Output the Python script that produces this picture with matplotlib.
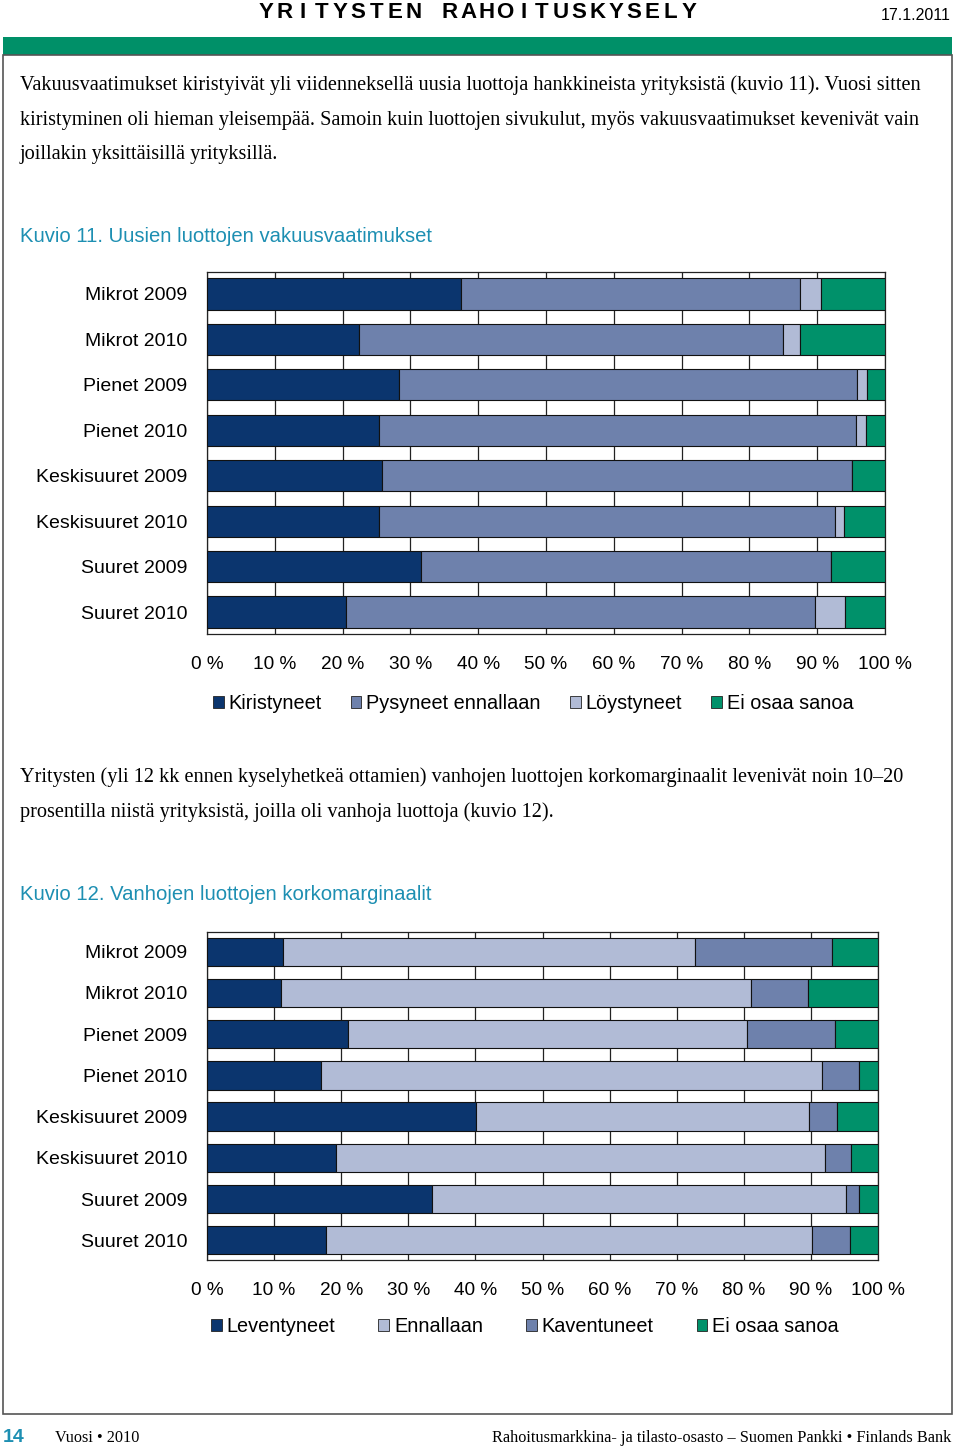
import numpy as np
import matplotlib.pyplot as plt
from matplotlib.patches import Patch, Rectangle

# --- data ---
groups = ["Mikrot 2009", "Mikrot 2010", "Pienet 2009", "Pienet 2010",
          "Keskisuuret 2009", "Keskisuuret 2010", "Suuret 2009", "Suuret 2010"]

# Kuvio 11
kiristyneet = [37.5, 22.4, 28.3, 25.4, 25.8, 25.4, 31.5, 20.5]
pysyneet = [49.9, 62.5, 67.5, 70.3, 69.4, 67.2, 60.5, 69.2]
loystyneet = [3.2, 2.5, 1.5, 1.5, 0.0, 1.3, 0.0, 4.4]
eos_11 = [9.4, 12.6, 2.7, 2.8, 4.8, 6.1, 8.0, 5.9]

# Kuvio 12
leventyneet = [11.4, 11.0, 21.0, 17.0, 40.1, 19.2, 33.5, 17.8]
ennallaan = [61.3, 70.1, 59.5, 74.6, 49.6, 72.9, 61.8, 72.3]
kaventuneet = [20.4, 8.5, 13.1, 5.5, 4.2, 3.9, 1.8, 5.7]
eos_12 = [6.9, 10.4, 6.4, 2.9, 6.1, 4.0, 2.9, 4.2]

xticks = [0, 10, 20, 30, 40, 50, 60, 70, 80, 90, 100]
xticklabels = ["%d %%" % t for t in xticks]

NAVY = "#0b356e"
MID = "#6e81ac"
LIGHT = "#b1bbd6"
GREEN = "#00916a"
TEAL = "#1d8fb2"

W, H = 960, 1450
fig = plt.figure(figsize=(W / 100, H / 100), dpi=100)


def fx(x):
    return x / W


def fy(y):
    return 1 - y / H


def txt(x, y, s, **kw):
    fig.text(fx(x), fy(y), s, **kw)


# header
head = "YRITYSTEN RAHOITUSKYSELY"
for i, ch in enumerate(head):
    txt(266 + i * 18.4, 13, ch, fontsize=16, fontweight="bold",
        family="Liberation Sans", ha="center", va="center")
txt(951, 15, "17.1.2011", fontsize=11.5, family="Liberation Sans",
    ha="right", va="center")
fig.patches.append(Rectangle((fx(3), fy(55)), fx(952) - fx(3), fy(37) - fy(55),
                             transform=fig.transFigure, facecolor="#009068",
                             edgecolor="none"))
fig.patches.append(Rectangle((fx(3), fy(1414)), fx(952) - fx(3), fy(55) - fy(1414),
                             transform=fig.transFigure, facecolor="none",
                             edgecolor="#555555", linewidth=1.2))

serif = dict(fontsize=14.6, family="Liberation Serif", ha="left", va="center")
txt(20, 85, "Vakuusvaatimukset kiristyivät yli viidenneksellä uusia luottoja hankkineista yrityksistä (kuvio 11). Vuosi sitten", **serif)
txt(20, 120, "kiristyminen oli hieman yleisempää. Samoin kuin luottojen sivukulut, myös vakuusvaatimukset kevenivät vain", **serif)
txt(20, 155, "joillakin yksittäisillä yrityksillä.", **serif)
txt(20, 237, "Kuvio 11. Uusien luottojen vakuusvaatimukset", fontsize=14.6,
    family="Liberation Sans", color=TEAL, ha="left", va="center")

txt(20, 777, "Yritysten (yli 12 kk ennen kyselyhetkeä ottamien) vanhojen luottojen korkomarginaalit levenivät noin 10–20", **serif)
txt(20, 812, "prosentilla niistä yrityksistä, joilla oli vanhoja luottoja (kuvio 12).", **serif)
txt(20, 894, "Kuvio 12. Vanhojen luottojen korkomarginaalit", fontsize=14.6,
    family="Liberation Sans", color=TEAL, ha="left", va="center")

# footer
txt(3, 1437, "14", fontsize=14, fontweight="bold", family="Liberation Sans",
    color=TEAL, ha="left", va="center")
txt(55, 1438, "Vuosi • 2010", fontsize=11.7, family="Liberation Serif",
    ha="left", va="center")
txt(951, 1438, "Rahoitusmarkkina- ja tilasto-osasto – Suomen Pankki • Finlands Bank",
    fontsize=11.7, family="Liberation Serif", ha="right", va="center")


def chart(box, series, labels, colors, legend_x, legend_y, colspace):
    left, top, right, bottom = box
    ax = fig.add_axes([fx(left), fy(bottom), fx(right) - fx(left), fy(top) - fy(bottom)])
    y = np.arange(len(groups))
    base = np.zeros(len(groups))
    for vals, lab, col in zip(series, labels, colors):
        ax.barh(y, vals, left=base, height=0.69, color=col, edgecolor="#111111",
                linewidth=0.8, label=lab, zorder=3)
        base += np.array(vals)
    ax.set_xlim(0, 100)
    ax.set_ylim(len(groups) - 0.52, -0.48)
    ax.set_xticks(xticks)
    ax.set_xticklabels(xticklabels, family="Liberation Sans", fontsize=13.7)
    ax.set_yticks(y)
    ax.set_yticklabels(groups, family="Liberation Sans", fontsize=14)
    ax.tick_params(axis="x", length=0, pad=16)
    ax.tick_params(axis="y", length=0, pad=14)
    ax.xaxis.grid(True, color="#222222", linewidth=0.9, zorder=0)
    ax.set_axisbelow(True)
    for sp in ax.spines.values():
        sp.set_color("#222222")
        sp.set_linewidth(0.9)
    handles = [Patch(facecolor=c, edgecolor="#222222", linewidth=0.6) for c in colors]
    fig.legend(handles, labels, ncol=4, loc="center",
               bbox_to_anchor=(fx(legend_x), fy(legend_y)),
               frameon=False, handlelength=0.55, handleheight=0.55,
               handletextpad=0.25, columnspacing=colspace,
               prop={"family": "Liberation Sans", "size": 14.3})
    return ax


chart((207, 272, 885, 634), [kiristyneet, pysyneet, loystyneet, eos_11],
      ["Kiristyneet", "Pysyneet ennallaan", "Löystyneet", "Ei osaa sanoa"],
      [NAVY, MID, LIGHT, GREEN], 533, 704, 1.45)
chart((207, 932, 878, 1260), [leventyneet, ennallaan, kaventuneet, eos_12],
      ["Leventyneet", "Ennallaan", "Kaventuneet", "Ei osaa sanoa"],
      [NAVY, LIGHT, MID, GREEN], 525, 1327, 2.15)

fig.savefig("out.png", dpi=100)
